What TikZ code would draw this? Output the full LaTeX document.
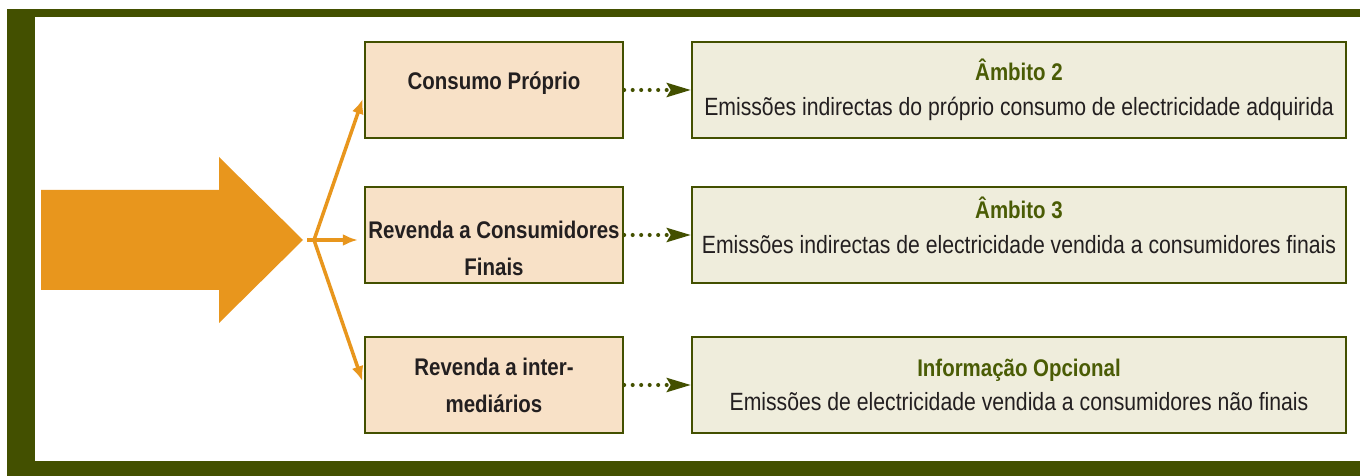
\documentclass[tikz,border=0pt]{standalone}
\usepackage{fontspec}
\setmainfont{Liberation Sans}[FakeStretch=0.85]
\usetikzlibrary{arrows.meta}
\definecolor{framegreen}{HTML}{435000}
\definecolor{titlegreen}{HTML}{4A5C05}
\definecolor{supplyorange}{HTML}{E8961D}
\definecolor{peach}{HTML}{F8E1C7}
\definecolor{paleolive}{HTML}{EFEDDC}
\definecolor{inkgrey}{HTML}{231F20}

\begin{document}
\begin{tikzpicture}[x=0.02cm,y=-0.02cm,
  usebox/.style={draw=framegreen, line width=1.4pt, fill=peach, text=inkgrey,
    minimum width=5.16cm, minimum height=1.92cm, inner xsep=1pt, align=center,
    font=\fontsize{13.7}{21}\selectfont\bfseries},
  scopebox/.style={draw=framegreen, line width=1.4pt, fill=paleolive, text=inkgrey,
    minimum width=13.08cm, minimum height=1.92cm, align=center,
    font=\fontsize{14.2}{19.8}\selectfont},
  feed/.style={draw=supplyorange, line width=2pt, -{Latex[length=0.3cm,width=0.24cm]}},
  dotlink/.style={draw=framegreen, line width=2.3pt, line cap=round,
    dash pattern=on 0pt off 0.17cm, -{Stealth[length=0.48cm,width=0.28cm,inset=0.08cm]}}]
\newcommand{\boxhead}[1]{{\fontsize{13.7}{19.8}\selectfont\bfseries\color{titlegreen}#1}}
\useasboundingbox (0,0) rectangle (1360,476);
\fill[framegreen] (7,9) rectangle (1360,476);
\fill[white] (35,17) rectangle (1360,461);

\fill[supplyorange] (41,190) -- (219,190) -- (219,157) -- (303,240) -- (219,323) -- (219,290) -- (41,290) -- cycle;
\coordinate (tip) at (307,240);
\coordinate (fork) at (314,240);

\node[usebox] (own) at (494,90) {\rule{0pt}{20pt}Consumo Próprio\\\mbox{}};
\node[usebox] (final) at (494,235) {\rule{0pt}{25pt}Revenda a Consumidores\\Finais};
\node[usebox] (inter) at (494,385) {Revenda a inter-\\mediários};

\node[scopebox] (scopetwo) at (1019,90) {\boxhead{Âmbito 2}\\Emissões indirectas do próprio consumo de electricidade adquirida};
\node[scopebox] (scopethree) at (1019,235) {\boxhead{Âmbito 3}\\Emissões indirectas de electricidade vendida a consumidores finais\rule[-11pt]{0pt}{0pt}};
\node[scopebox] (optional) at (1019,385) {\boxhead{Informação Opcional}\\\rule{0pt}{16pt}Emissões de electricidade vendida a consumidores não finais};

\draw[supplyorange, line width=2pt] (tip) -- (fork);
\draw[feed, shorten >=0.06cm] (fork) -- ([yshift=-0.12cm]own.west);
\draw[feed, shorten >=0.12cm] (tip) -- (fork -| final.west);
\draw[feed, shorten >=0.08cm] (fork) -- (inter.west);

\draw[dotlink] (own.east) -- (scopetwo.west);
\draw[dotlink] (final.east) -- (scopethree.west);
\draw[dotlink] (inter.east) -- (optional.west);
\end{tikzpicture}
\end{document}
